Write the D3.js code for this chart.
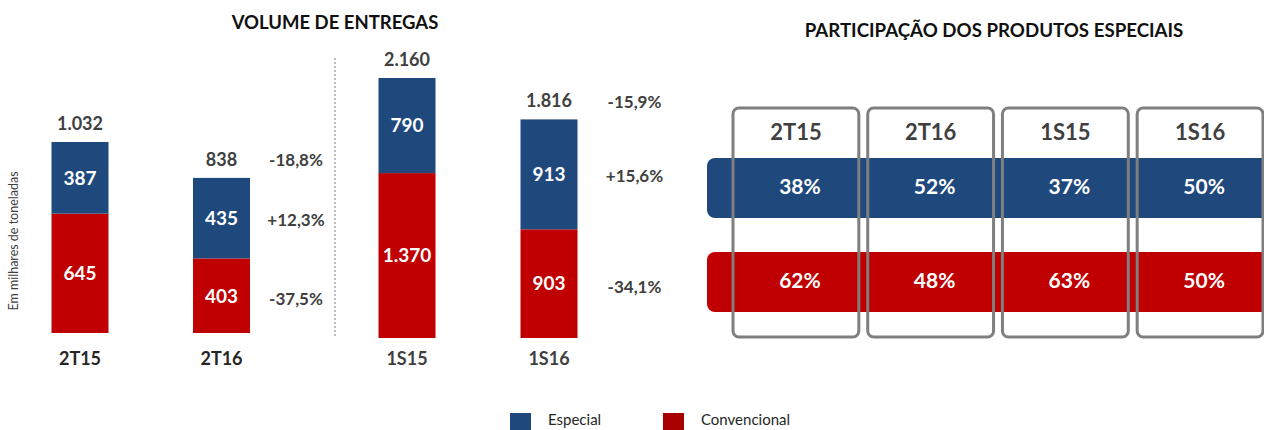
<!DOCTYPE html>
<html>
<head>
<meta charset="utf-8">
<script src="https://cdn.jsdelivr.net/npm/d3@7"></script>
<style>
  body { margin: 0; background: white; }
  svg { display: block; font-family: Lato, "Open Sans", sans-serif; }
</style>
</head>
<body>
<svg id="chart" width="1264" height="430"></svg>
<script>
// Volume de entregas - quarters and semesters
const quarters = ["2T15", "2T16"]
const qEspecial = [387, 435]
const qConvencional = [645, 403]
const qTotal = [1032, 838]
const qChange = ["-18,8%", "+12,3%", "-37,5%"]   // total, especial, convencional

const semesters = ["1S15", "1S16"]
const sEspecial = [790, 913]
const sConvencional = [1370, 903]
const sTotal = [2160, 1816]
const sChange = ["-15,9%", "+15,6%", "-34,1%"]

// Participação dos produtos especiais
const shareCats = ["2T15", "2T16", "1S15", "1S16"]
const shareRows = ["Especial", "Convencional"]
const shareEspecial = [38, 52, 37, 50]
const shareConvencional = [62, 48, 63, 50]

const legendLabels = ["Especial", "Convencional"]

const blue = "#1f497d"
const red = "#c00000"
const darkText = "#404040"

const ptBR = d3.formatLocale({decimal: ",", thousands: ".", grouping: [3], currency: ["R$", ""]})
const fmt = ptBR.format(",d")

const svg = d3.select("#chart")
const barWidth = 57

// titles
svg.append("text")
    .attr("x", 335)
    .attr("y", 29)
    .attr("text-anchor", "middle")
    .attr("font-size", "18.5px")
    .attr("font-weight", "bold")
    .attr("fill", "#111")
    .text("VOLUME DE ENTREGAS")

svg.append("text")
    .attr("x", 994)
    .attr("y", 37)
    .attr("text-anchor", "middle")
    .attr("font-size", "18.7px")
    .attr("font-weight", "bold")
    .attr("fill", "#111")
    .text("PARTICIPAÇÃO DOS PRODUTOS ESPECIAIS")

svg.append("text")
    .attr("transform", "translate(18, 241) rotate(-90)")
    .attr("text-anchor", "middle")
    .attr("font-size", "12.5px")
    .attr("fill", darkText)
    .text("Em milhares de toneladas")

function drawBars(cats, esp, conv, tot, changes, x, y, catColor, changeDx) {
    const g = svg.append("g")
    const rows = cats.map((c, i) => ({cat: c, esp: esp[i], conv: conv[i], tot: tot[i]}))

    g.selectAll("rect.conv")
        .data(rows)
        .enter()
        .append("rect")
        .attr("class", "conv")
        .attr("x", d => x(d.cat) - barWidth/2)
        .attr("y", d => y(d.conv))
        .attr("width", barWidth)
        .attr("height", d => y(0) - y(d.conv))
        .attr("fill", red)

    g.selectAll("rect.esp")
        .data(rows)
        .enter()
        .append("rect")
        .attr("class", "esp")
        .attr("x", d => x(d.cat) - barWidth/2)
        .attr("y", d => y(d.conv + d.esp))
        .attr("width", barWidth)
        .attr("height", d => y(d.conv) - y(d.conv + d.esp))
        .attr("fill", blue)

    // segment values
    g.selectAll("text.conv")
        .data(rows)
        .enter()
        .append("text")
        .attr("x", d => x(d.cat))
        .attr("y", d => (y(0) + y(d.conv))/2)
        .attr("dy", "0.36em")
        .attr("text-anchor", "middle")
        .attr("font-size", "19px")
        .attr("font-weight", "bold")
        .attr("fill", "white")
        .text(d => fmt(d.conv))

    g.selectAll("text.esp")
        .data(rows)
        .enter()
        .append("text")
        .attr("x", d => x(d.cat))
        .attr("y", d => (y(d.conv) + y(d.conv + d.esp))/2)
        .attr("dy", "0.36em")
        .attr("text-anchor", "middle")
        .attr("font-size", "19px")
        .attr("font-weight", "bold")
        .attr("fill", "white")
        .text(d => fmt(d.esp))

    // totals
    g.selectAll("text.tot")
        .data(rows)
        .enter()
        .append("text")
        .attr("x", d => x(d.cat))
        .attr("y", d => y(d.tot) - 12)
        .attr("text-anchor", "middle")
        .attr("font-size", "18px")
        .attr("font-weight", "bold")
        .attr("fill", darkText)
        .text(d => fmt(d.tot))

    // categories
    g.selectAll("text.cat")
        .data(rows)
        .enter()
        .append("text")
        .attr("x", d => x(d.cat))
        .attr("y", 365)
        .attr("text-anchor", "middle")
        .attr("font-size", "18px")
        .attr("font-weight", "bold")
        .attr("fill", catColor)
        .text(d => d.cat)

    // variation labels next to last bar
    const last = rows[rows.length - 1]
    const changeY = [
        y(last.tot) - 12 - 6,
        (y(last.conv) + y(last.conv + last.esp))/2 + 2,
        (y(0) + y(last.conv))/2 + 3
    ]
    g.selectAll("text.chg")
        .data(changes)
        .enter()
        .append("text")
        .attr("x", x(last.cat) + barWidth/2 + changeDx)
        .attr("y", (d, i) => changeY[i])
        .attr("dy", "0.36em")
        .attr("text-anchor", "middle")
        .attr("font-size", "17px")
        .attr("font-weight", "bold")
        .attr("fill", darkText)
        .text(d => d)
}

const xq = d3.scalePoint().domain(quarters).range([80, 221.5])
const yq = d3.scaleLinear().domain([0, 1032]).range([333, 142])
drawBars(quarters, qEspecial, qConvencional, qTotal, qChange, xq, yq, "#262626", 46)

const xs = d3.scalePoint().domain(semesters).range([407, 549])
const ys = d3.scaleLinear().domain([0, 2160]).range([338, 78])
drawBars(semesters, sEspecial, sConvencional, sTotal, sChange, xs, ys, darkText, 57)

// separator
svg.append("line")
    .attr("x1", 335)
    .attr("x2", 335)
    .attr("y1", 58)
    .attr("y2", 337)
    .attr("stroke", "#7f7f7f")
    .attr("stroke-width", 1)
    .attr("stroke-dasharray", "2,2")

// share panel
const xb = d3.scaleBand().domain(shareCats).range([733, 1263]).paddingInner(0.066)
const yb = d3.scaleBand().domain(shareRows).range([158, 312]).paddingInner(0.362)

const shareData = [
    {row: "Especial", color: blue, vals: shareEspecial},
    {row: "Convencional", color: red, vals: shareConvencional}
]

svg.append("g")
    .selectAll("rect")
    .data(shareData)
    .enter()
    .append("rect")
    .attr("x", 707)
    .attr("y", d => yb(d.row))
    .attr("width", 620)
    .attr("height", yb.bandwidth())
    .attr("rx", 8)
    .attr("ry", 8)
    .attr("fill", d => d.color)

svg.append("g")
    .selectAll("rect")
    .data(shareCats)
    .enter()
    .append("rect")
    .attr("x", d => xb(d))
    .attr("y", 108)
    .attr("width", xb.bandwidth())
    .attr("height", 229)
    .attr("rx", 6)
    .attr("ry", 6)
    .attr("fill", "none")
    .attr("stroke", "#7f7f7f")
    .attr("stroke-width", 3)

svg.append("g")
    .selectAll("text")
    .data(shareCats)
    .enter()
    .append("text")
    .attr("x", d => xb(d) + xb.bandwidth()/2)
    .attr("y", 140)
    .attr("text-anchor", "middle")
    .attr("font-size", "22px")
    .attr("font-weight", "bold")
    .attr("fill", darkText)
    .text(d => d)

shareData.forEach(r => {
    svg.append("g")
        .selectAll("text")
        .data(r.vals)
        .enter()
        .append("text")
        .attr("x", (d, i) => xb(shareCats[i]) + xb.bandwidth()/2 + 4)
        .attr("y", yb(r.row) + yb.bandwidth()/2)
        .attr("dy", "0.3em")
        .attr("text-anchor", "middle")
        .attr("font-size", "21px")
        .attr("font-weight", "bold")
        .attr("fill", "white")
        .text(d => d + "%")
})

// legend
const legendColors = [blue, "#a80000"]
const legendX = d3.scalePoint().domain(legendLabels).range([510, 663])
const legend = svg.append("g")
legend.selectAll("rect")
    .data(legendLabels)
    .enter()
    .append("rect")
    .attr("x", d => legendX(d))
    .attr("y", 413)
    .attr("width", 21)
    .attr("height", 20)
    .attr("fill", (d, i) => legendColors[i])
legend.selectAll("text")
    .data(legendLabels)
    .enter()
    .append("text")
    .attr("x", d => legendX(d) + 38)
    .attr("y", 425)
    .attr("font-size", "15px")
    .attr("fill", "#262626")
    .text(d => d)
</script>
</body>
</html>
